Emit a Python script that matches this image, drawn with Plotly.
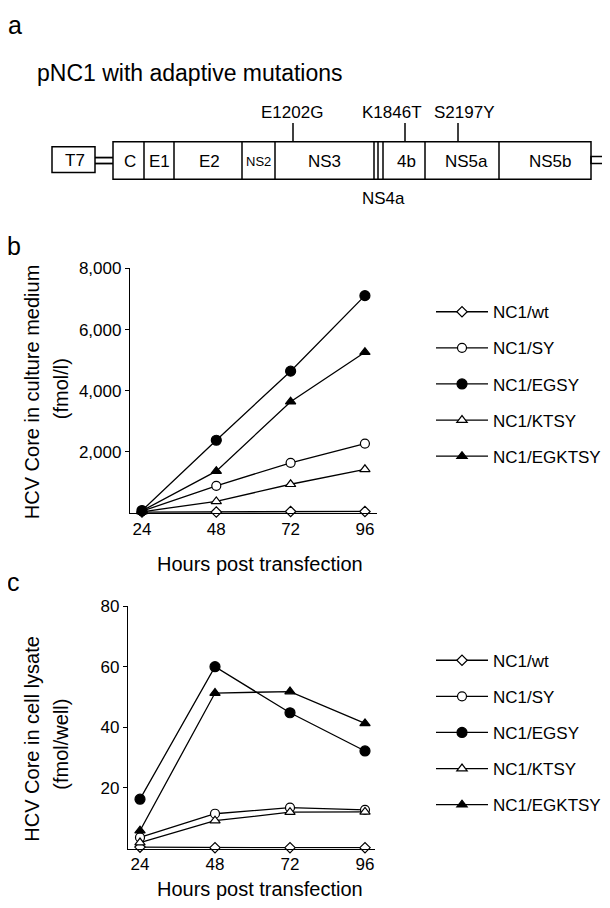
import plotly.graph_objects as go

# ---------------- data ----------------
HOURS = [24, 48, 72, 96]
SERIES = ["NC1/wt", "NC1/SY", "NC1/EGSY", "NC1/KTSY", "NC1/EGKTSY"]

MEDIUM_WT = [30, 30, 50, 50]
MEDIUM_SY = [60, 890, 1640, 2270]
MEDIUM_EGSY = [80, 2380, 4640, 7110]
MEDIUM_KTSY = [40, 380, 940, 1430]
MEDIUM_EGKTSY = [70, 1370, 3640, 5260]

LYSATE_WT = [0.5, 0.3, 0.3, 0.3]
LYSATE_SY = [3.7, 11.5, 13.5, 12.8]
LYSATE_EGSY = [16.3, 60.0, 44.8, 32.2]
LYSATE_KTSY = [2.0, 9.2, 12.0, 12.1]
LYSATE_EGKTSY = [5.9, 51.3, 51.8, 41.3]

MEDIUM_TICKS = [2000, 4000, 6000, 8000]
LYSATE_TICKS = [20, 40, 60, 80]

GENE_LABELS = ["C", "E1", "E2", "NS2", "NS3", "4b", "NS5a", "NS5b"]
MUTATIONS = ["E1202G", "K1846T", "S2197Y"]

# ---------------- styles / layout geometry ----------------
PAGE_W, PAGE_H = 610, 908
BODY = 8  # default browser body margin
W, H = PAGE_W - BODY, PAGE_H - BODY
FONT = "Arial, Liberation Sans, Helvetica, sans-serif"
BLACK = "black"


def px(x):
    return (x - BODY) / W


def py(y):
    return 1 - (y - BODY) / H


STYLES = {
    "NC1/wt": dict(symbol="diamond", size=8, color="white"),
    "NC1/SY": dict(symbol="circle", size=9, color="white"),
    "NC1/EGSY": dict(symbol="circle", size=10, color=BLACK),
    "NC1/KTSY": dict(symbol="triangle-up", size=9, color="white"),
    "NC1/EGKTSY": dict(symbol="triangle-up", size=9, color=BLACK),
}

medium = dict(zip(SERIES, [MEDIUM_WT, MEDIUM_SY, MEDIUM_EGSY, MEDIUM_KTSY, MEDIUM_EGKTSY]))
lysate = dict(zip(SERIES, [LYSATE_WT, LYSATE_SY, LYSATE_EGSY, LYSATE_KTSY, LYSATE_EGKTSY]))

fig = go.Figure()

for panel, data, xa, ya, leg in [("b", medium, "x", "y", "legend"), ("c", lysate, "x2", "y2", "legend2")]:
    for name in SERIES:
        st = STYLES[name]
        fig.add_trace(go.Scatter(
            x=HOURS, y=data[name], name=name, mode="lines+markers",
            xaxis=xa, yaxis=ya, legend=leg, legendgroup=panel + name,
            line=dict(color=BLACK, width=1.3),
            marker=dict(symbol=st["symbol"], size=st["size"], color=st["color"],
                        line=dict(color=BLACK, width=1.2)),
            cliponaxis=False,
        ))

axis_common = dict(showline=True, linecolor=BLACK, linewidth=1.3, showgrid=False,
                   zeroline=False, tickfont=dict(size=17, family=FONT, color=BLACK))

legend_common = dict(xanchor="left", yanchor="top", bgcolor="rgba(0,0,0,0)",
                     font=dict(size=17, family=FONT, color=BLACK), itemwidth=52,
                     tracegroupgap=11, traceorder="grouped")

fig.update_layout(
    width=W, height=H, autosize=False,
    margin=dict(l=0, r=0, t=0, b=0),
    paper_bgcolor="white", plot_bgcolor="white",
    font=dict(family=FONT, color=BLACK),
    xaxis=dict(domain=[px(130), px(377)], range=[20.13, 99.9], anchor="y",
               tickvals=HOURS, ticks="", **axis_common),
    yaxis=dict(domain=[py(509), py(262)], range=[0, 8000], anchor="x",
               tickvals=MEDIUM_TICKS, tickformat=",", ticks="outside", ticklen=4,
               tickcolor=BLACK, **axis_common),
    xaxis2=dict(domain=[px(128), px(375)], range=[20.16, 99.2], anchor="y2",
                tickvals=HOURS, ticks="", **axis_common),
    yaxis2=dict(domain=[py(848), py(603)], range=[0, 80], anchor="x2",
                tickvals=LYSATE_TICKS, ticks="outside", ticklen=4,
                tickcolor=BLACK, **axis_common),
    legend=dict(x=px(431), y=py(288), **legend_common),
    legend2=dict(x=px(431), y=py(640), **legend_common),
)

# ---------------- panel a: genome diagram ----------------
shapes = []
line_st = dict(color=BLACK, width=1.5)
BOX_TOP, BOX_BOT = 134, 172
BOUNDS = [113, 144, 174, 242, 275, 374, 378, 383, 425, 499, 591]
shapes.append(dict(type="rect", xref="paper", yref="paper", x0=px(BOUNDS[0]), x1=px(BOUNDS[-1]),
                   y0=py(BOX_BOT), y1=py(BOX_TOP), line=line_st))
for b in BOUNDS[1:-1]:
    shapes.append(dict(type="line", xref="paper", yref="paper", x0=px(b), x1=px(b),
                       y0=py(BOX_BOT), y1=py(BOX_TOP), line=line_st))
# T7 box and connector
shapes.append(dict(type="rect", xref="paper", yref="paper", x0=px(52), x1=px(95),
                   y0=py(165), y1=py(139), line=line_st))
for yy in (150, 156):
    shapes.append(dict(type="line", xref="paper", yref="paper", x0=px(95), x1=px(113),
                       y0=py(yy), y1=py(yy), line=dict(color=BLACK, width=1.8)))
# 3' end
shapes.append(dict(type="rect", xref="paper", yref="paper", x0=px(591), x1=px(603),
                   y0=py(156), y1=py(149), line=line_st))
# mutation ticks
MUT_X = [293, 405, 458]
for mx in MUT_X:
    shapes.append(dict(type="line", xref="paper", yref="paper", x0=px(mx), x1=px(mx),
                       y0=py(BOX_TOP), y1=py(115), line=line_st))
fig.update_layout(shapes=shapes)

ann = []


def text(x, y, s, size=17, angle=0, anchor="center"):
    ann.append(dict(x=px(x), y=py(y), xref="paper", yref="paper", text=s, showarrow=False,
                    xanchor=anchor, yanchor="middle", textangle=angle,
                    font=dict(size=size, family=FONT, color=BLACK)))


GENE_X = [130, 159, 209, 258, 325, 406, 466, 550]
for lab, gx in zip(GENE_LABELS, GENE_X):
    text(gx, 154, lab, size=13 if lab == "NS2" else 17)
text(75, 153, "T7", size=17)
text(383, 191, "NS4a", size=17)
for lab, lx in zip(MUTATIONS, [292, 392, 464]):
    text(lx, 104, lab, size=17)

text(15, 16, "a", size=25)
text(14, 239, "b", size=25)
text(13, 579, "c", size=25)
text(35, 65, "pNC1 with adaptive mutations", size=23, anchor="left")

# axis titles
text(32, 387, "HCV Core in culture medium", size=20, angle=-90)
text(61, 383, "(fmol/l)", size=20, angle=-90)
text(260, 561, "Hours post transfection", size=20)
text(32, 737, "HCV Core in cell lysate", size=20, angle=-90)
text(61, 742, "(fmol/well)", size=20, angle=-90)
text(260, 889, "Hours post transfection", size=20)

fig.update_layout(annotations=ann)

fig.write_html("out.html")
